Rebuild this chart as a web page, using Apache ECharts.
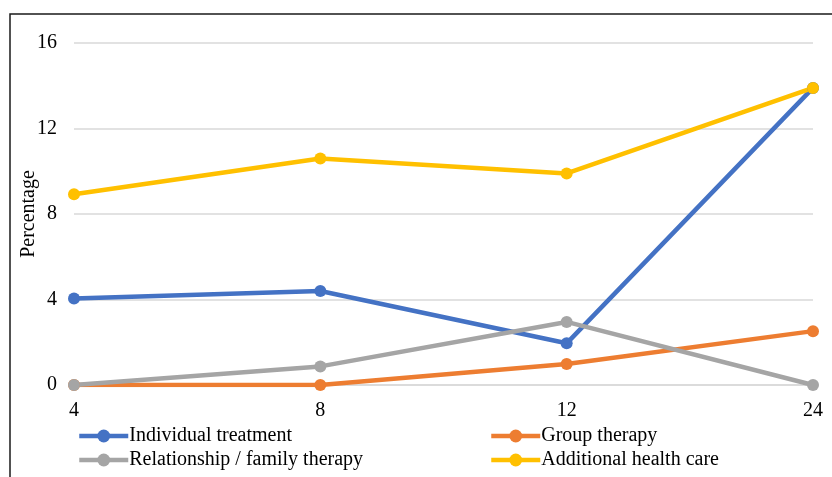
<!DOCTYPE html>
<html>
<head>
<meta charset="utf-8">
<script src="https://cdn.jsdelivr.net/npm/echarts@6/dist/echarts.min.js"></script>
<style>
  html, body { margin: 0; padding: 0; background: #fff; }
  #chart { width: 832px; height: 477px; }
</style>
</head>
<body>
<div id="chart"></div>
<script>
// Follow-up weeks along the horizontal axis
const weeks = ['4', '8', '12', '24'];

// Percentage of participants using each kind of care
const individualTreatment = [4.05, 4.4, 1.95, 13.9];
const groupTherapy = [0, 0, 0.98, 2.52];
const relationshipTherapy = [0, 0.87, 2.95, 0];
const additionalHealthCare = [8.92, 10.6, 9.9, 13.9];

const yTicks = { min: 0, max: 16, interval: 4 };

const FONT = '"Liberation Serif", "Times New Roman", serif';

function lineSeries(name, data, color) {
  return {
    name: name,
    type: 'line',
    data: data,
    symbol: 'circle',
    symbolSize: 12,
    lineStyle: { width: 4.5, color: color },
    itemStyle: { color: color },
    emphasis: { disabled: true }
  };
}

function legendBlock(names, left) {
  return {
    data: names,
    orient: 'vertical',
    left: left,
    top: 426,
    padding: 0,
    itemWidth: 49,
    itemHeight: 16,
    itemGap: 4,
    lineStyle: { width: 4.5 },
    textStyle: { fontSize: 20, color: '#000', fontFamily: FONT, padding: [0, 0, 0, -4] }
  };
}

const chart = echarts.init(document.getElementById('chart'), null, { renderer: 'canvas' });

chart.setOption({
  animation: false,
  color: ['#4472C4', '#ED7D31', '#A5A5A5', '#FFC000'],
  textStyle: { fontFamily: FONT, color: '#000' },
  grid: { left: 74, right: 19, top: 43, bottom: 92, containLabel: false, outerBoundsMode: 'none' },
  xAxis: {
    type: 'category',
    data: weeks,
    boundaryGap: false,
    axisLine: { show: true, lineStyle: { color: '#D9D9D9', width: 1.5 } },
    axisTick: { show: false },
    axisLabel: { fontSize: 20, color: '#000', fontFamily: FONT, margin: 16 }
  },
  yAxis: {
    type: 'value',
    min: yTicks.min,
    max: yTicks.max,
    interval: yTicks.interval,
    name: 'Percentage',
    nameLocation: 'middle',
    nameGap: 35,
    nameRotate: 90,
    nameMoveOverlap: false,
    nameTextStyle: { fontSize: 20, color: '#000', fontFamily: FONT },
    axisLine: { show: false },
    axisTick: { show: false },
    axisLabel: { fontSize: 20, color: '#000', fontFamily: FONT, margin: 17 },
    splitLine: { lineStyle: { color: '#D9D9D9', width: 1.5 } }
  },
  legend: [
    legendBlock(['Individual treatment', 'Relationship / family therapy'], 77),
    legendBlock(['Group therapy', 'Additional health care'], 489)
  ],
  graphic: [
    {
      type: 'polyline',
      shape: { points: [[10, 477], [10, 14], [832, 14]] },
      style: { stroke: '#1a1a1a', lineWidth: 1.5, fill: null },
      silent: true
    }
  ],
  series: [
    lineSeries('Individual treatment', individualTreatment, '#4472C4'),
    lineSeries('Group therapy', groupTherapy, '#ED7D31'),
    lineSeries('Relationship / family therapy', relationshipTherapy, '#A5A5A5'),
    lineSeries('Additional health care', additionalHealthCare, '#FFC000')
  ]
});
</script>
</body>
</html>
